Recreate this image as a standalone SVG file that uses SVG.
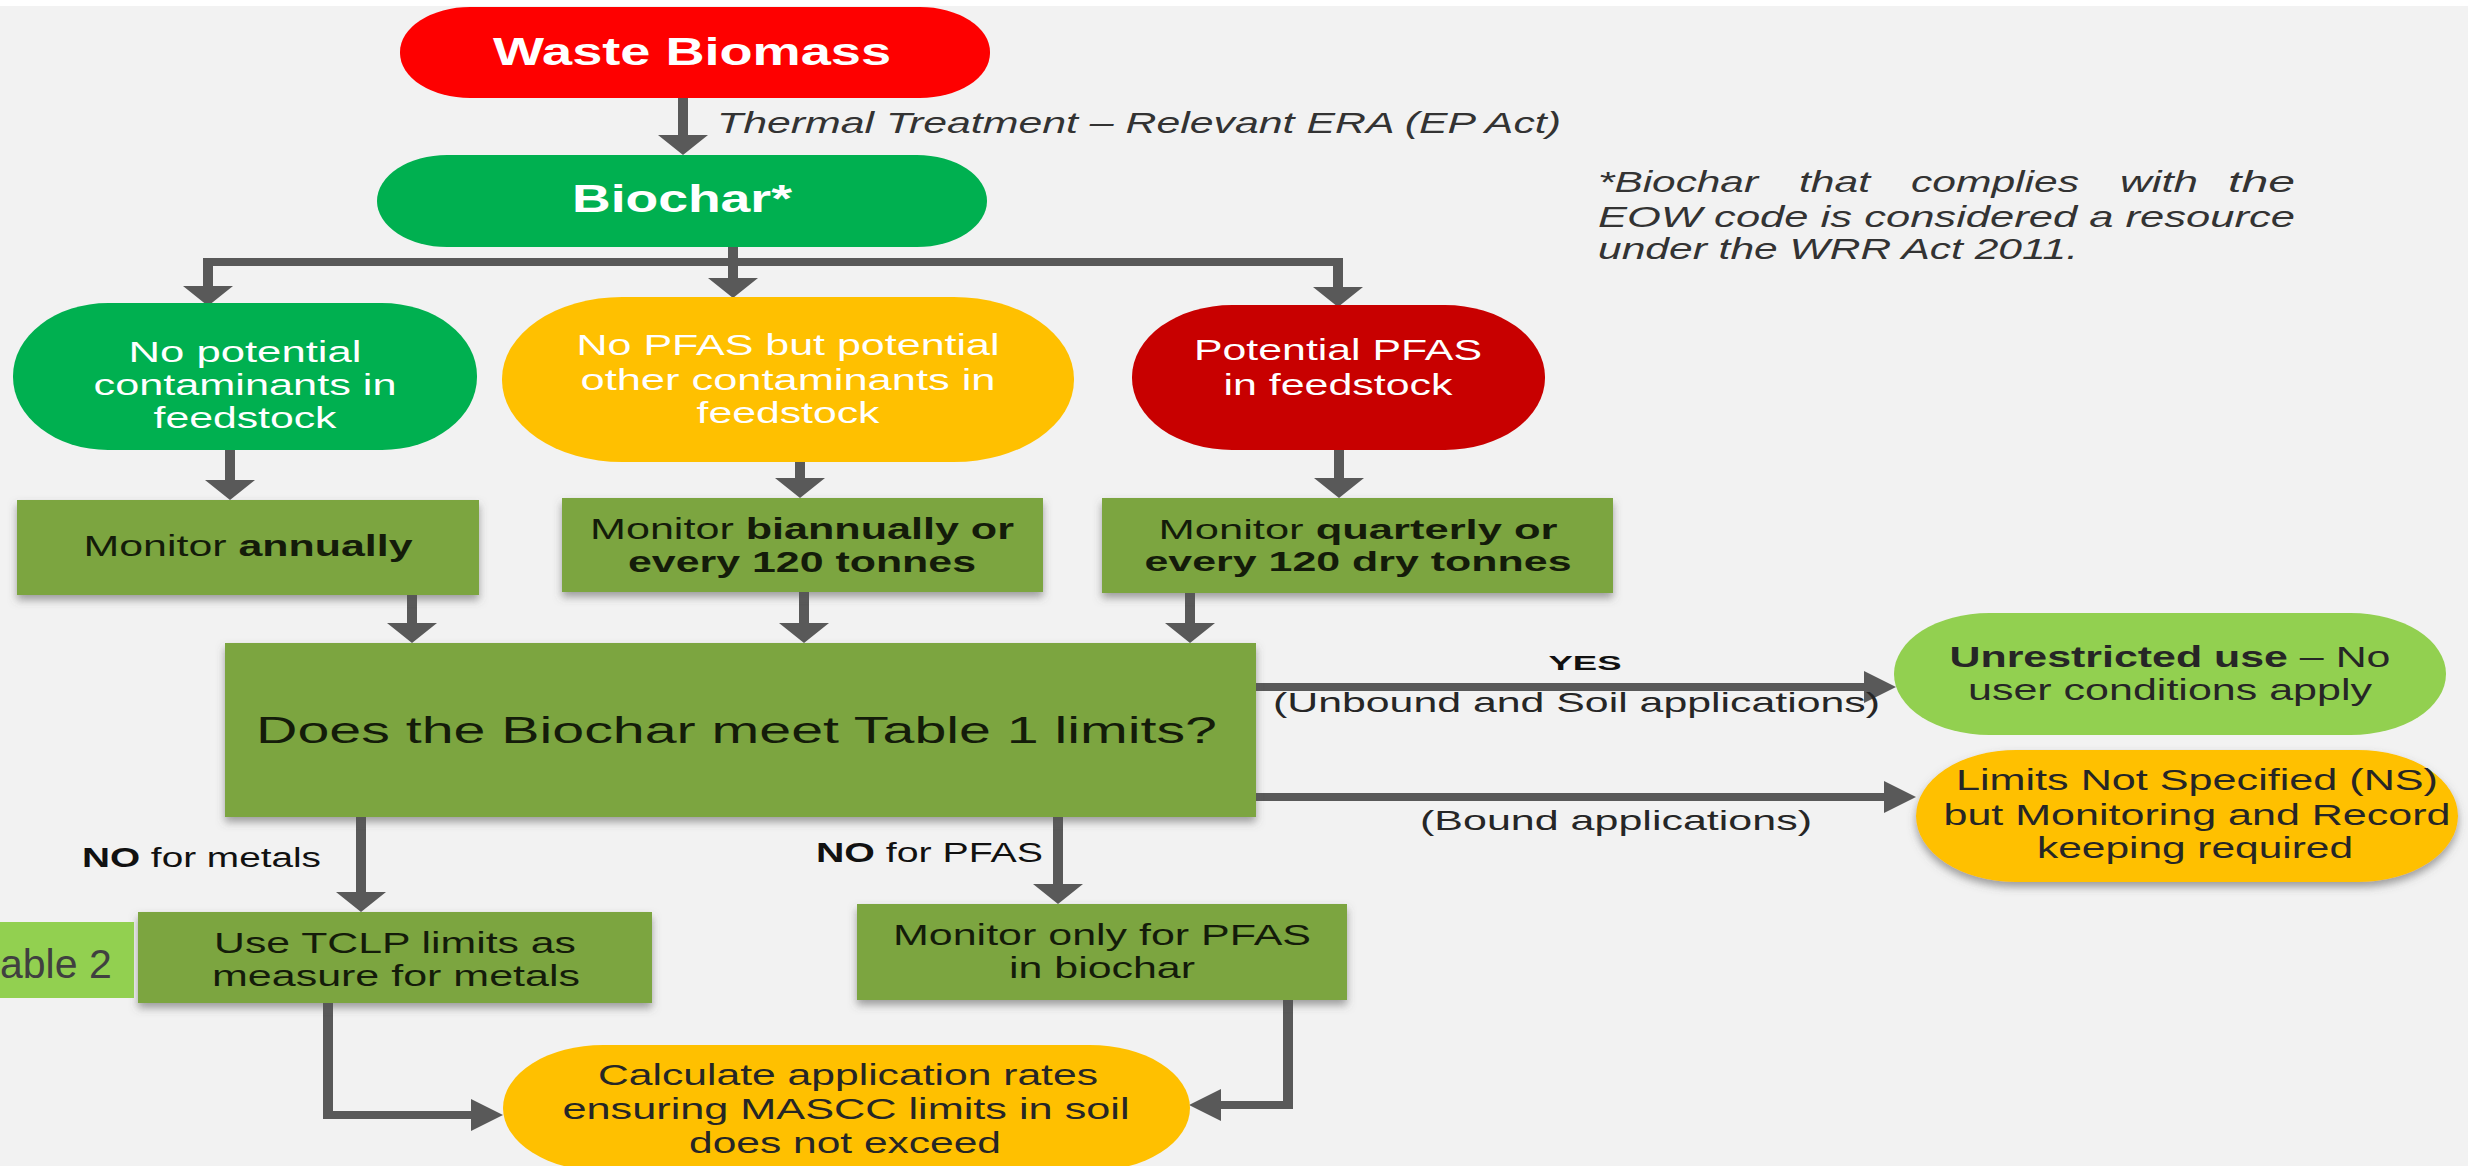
<svg xmlns="http://www.w3.org/2000/svg" width="2468" height="1166" viewBox="0 0 2468 1166">
<defs>
<style>
text{font-family:"Liberation Sans",Arial,sans-serif;}
.wt{fill:#ffffff;}
.dk{fill:#141c0a;}
.dg{fill:#262626;}
.it{font-style:italic;fill:#333333;}
.b{font-weight:bold;}
.olive{fill:#7ca53f;}
.v{fill:none;stroke:#595959;stroke-width:10;}
.h{fill:none;stroke:#595959;stroke-width:8;}
.av{marker-end:url(#ahv);}
.ah{marker-end:url(#ahh);}
</style>
<marker id="ahv" markerUnits="userSpaceOnUse" orient="auto" markerWidth="22" markerHeight="52" refX="0" refY="26" viewBox="0 0 22 52" overflow="visible">
<path d="M0,1 L20,26 L0,51 Z" fill="#595959"/>
</marker>
<marker id="ahh" markerUnits="userSpaceOnUse" orient="auto" markerWidth="34" markerHeight="32" refX="0" refY="16" viewBox="0 0 34 32" overflow="visible">
<path d="M0,0 L32,16 L0,32 Z" fill="#595959"/>
</marker>
<filter id="sh" x="-5%" y="-10%" width="110%" height="130%">
<feDropShadow dx="0" dy="5" stdDeviation="4" flood-color="#555555" flood-opacity="0.55"/>
</filter>
</defs>
<rect x="0" y="0" width="2468" height="1166" fill="#f2f2f2"/>
<rect x="0" y="0" width="2468" height="6" fill="#ffffff"/>

<g id="connectors">
<path class="v av" d="M683,98 V135"/>
<path class="v" d="M733,247 V266"/>
<path class="h" d="M203,262 H1343"/>
<path class="v av" d="M208,258 V286"/>
<path class="v av" d="M733,262 V278"/>
<path class="v av" d="M1338,258 V287"/>
<path class="v av" d="M230,450 V480"/>
<path class="v av" d="M800,462 V478"/>
<path class="v av" d="M1339,450 V478"/>
<path class="v av" d="M412,595 V623"/>
<path class="v av" d="M804,592 V623"/>
<path class="v av" d="M1190,593 V623"/>
<path class="v av" d="M361,817 V892"/>
<path class="v av" d="M1058,817 V884"/>
<path class="h ah" d="M1256,687 H1864"/>
<path class="h ah" d="M1256,797 H1884"/>
<path class="v" d="M328,1003 V1119"/>
<path class="h ah" d="M323,1115 H471"/>
<path class="v" d="M1288,1000 V1109"/>
<path class="h ah" d="M1292,1105 H1221"/>
<text class="it" x="717" y="133" font-size="29" textLength="844" lengthAdjust="spacingAndGlyphs">Thermal Treatment – Relevant ERA (EP Act)</text>
<text class="b" x="1585" y="670" font-size="21" text-anchor="middle" textLength="73" lengthAdjust="spacingAndGlyphs" fill="#111">YES</text>
<text x="1273" y="712" font-size="28" textLength="607" lengthAdjust="spacingAndGlyphs" fill="#262626">(Unbound and Soil applications)</text>
<text x="1420" y="830" font-size="28" textLength="392" lengthAdjust="spacingAndGlyphs" fill="#262626">(Bound applications)</text>
<text x="82" y="867" font-size="27" textLength="239" lengthAdjust="spacingAndGlyphs" fill="#111"><tspan class="b">NO</tspan> for metals</text>
<text x="816" y="862" font-size="27" textLength="227" lengthAdjust="spacingAndGlyphs" fill="#111"><tspan class="b">NO</tspan> for PFAS</text>
</g>

<g id="waste-biomass">
<rect x="400" y="7" width="590" height="91" rx="70" ry="45" fill="#fe0000"/>
<text class="wt b" x="692" y="65" font-size="39" text-anchor="middle" textLength="398" lengthAdjust="spacingAndGlyphs">Waste Biomass</text>
</g>

<g id="biochar">
<rect x="377" y="155" width="610" height="92" rx="70" ry="46" fill="#00b050"/>
<text class="wt b" x="682" y="212" font-size="38" text-anchor="middle" textLength="220" lengthAdjust="spacingAndGlyphs">Biochar*</text>
</g>

<g id="note">
<text class="it" y="192" font-size="29"><tspan x="1598" textLength="160" lengthAdjust="spacingAndGlyphs">*Biochar</tspan><tspan x="1799" textLength="71" lengthAdjust="spacingAndGlyphs">that</tspan><tspan x="1911" textLength="168" lengthAdjust="spacingAndGlyphs">complies</tspan><tspan x="2120" textLength="78" lengthAdjust="spacingAndGlyphs">with</tspan><tspan x="2228" textLength="67" lengthAdjust="spacingAndGlyphs">the</tspan></text>
<text class="it" x="1598" y="227" font-size="29" textLength="697" lengthAdjust="spacingAndGlyphs">EOW code is considered a resource</text>
<text class="it" x="1598" y="259" font-size="29" textLength="480" lengthAdjust="spacingAndGlyphs">under the WRR Act 2011.</text>
</g>

<g id="no-contaminants">
<rect x="13" y="303" width="464" height="147" rx="95" ry="73" fill="#00b050"/>
<text class="wt" x="245" y="362" font-size="29" text-anchor="middle" textLength="233" lengthAdjust="spacingAndGlyphs">No potential</text>
<text class="wt" x="245" y="395" font-size="29" text-anchor="middle" textLength="303" lengthAdjust="spacingAndGlyphs">contaminants in</text>
<text class="wt" x="245" y="428" font-size="29" text-anchor="middle" textLength="183" lengthAdjust="spacingAndGlyphs">feedstock</text>
</g>

<g id="no-pfas-other">
<rect x="502" y="297" width="572" height="165" rx="120" ry="82" fill="#ffc000"/>
<text class="wt" x="788" y="355" font-size="29" text-anchor="middle" textLength="423" lengthAdjust="spacingAndGlyphs">No PFAS but potential</text>
<text class="wt" x="788" y="390" font-size="29" text-anchor="middle" textLength="415" lengthAdjust="spacingAndGlyphs">other contaminants in</text>
<text class="wt" x="788" y="423" font-size="29" text-anchor="middle" textLength="183" lengthAdjust="spacingAndGlyphs">feedstock</text>
</g>

<g id="potential-pfas">
<rect x="1132" y="305" width="413" height="145" rx="100" ry="72" fill="#c80000"/>
<text class="wt" x="1338" y="360" font-size="29" text-anchor="middle" textLength="288" lengthAdjust="spacingAndGlyphs">Potential PFAS</text>
<text class="wt" x="1338" y="395" font-size="29" text-anchor="middle" textLength="229" lengthAdjust="spacingAndGlyphs">in feedstock</text>
</g>

<g id="monitor-annually">
<rect class="olive" x="17" y="500" width="462" height="95" filter="url(#sh)"/>
<text class="dk" x="248" y="556" font-size="30" text-anchor="middle" textLength="329" lengthAdjust="spacingAndGlyphs">Monitor <tspan class="b">annually</tspan></text>
</g>

<g id="monitor-biannually">
<rect class="olive" x="562" y="498" width="481" height="94" filter="url(#sh)"/>
<text class="dk" x="802" y="539" font-size="30" text-anchor="middle" textLength="424" lengthAdjust="spacingAndGlyphs">Monitor <tspan class="b">biannually or</tspan></text>
<text class="dk b" x="802" y="572" font-size="30" text-anchor="middle" textLength="348" lengthAdjust="spacingAndGlyphs">every 120 tonnes</text>
</g>

<g id="monitor-quarterly">
<rect class="olive" x="1102" y="498" width="511" height="95" filter="url(#sh)"/>
<text class="dk" x="1358" y="539" font-size="28" text-anchor="middle" textLength="399" lengthAdjust="spacingAndGlyphs">Monitor <tspan class="b">quarterly or</tspan></text>
<text class="dk b" x="1358" y="571" font-size="28" text-anchor="middle" textLength="427" lengthAdjust="spacingAndGlyphs">every 120 dry tonnes</text>
</g>

<g id="decision">
<rect class="olive" x="225" y="643" width="1031" height="174" filter="url(#sh)"/>
<text class="dk" x="256" y="743" font-size="36" textLength="961" lengthAdjust="spacingAndGlyphs">Does the Biochar meet Table 1 limits?</text>
</g>

<g id="unrestricted">
<rect x="1894" y="613" width="552" height="122" rx="95" ry="61" fill="#92d050"/>
<text class="dg" x="2170" y="667" font-size="29" text-anchor="middle" textLength="441" lengthAdjust="spacingAndGlyphs"><tspan class="b">Unrestricted use</tspan> – No</text>
<text class="dg" x="2170" y="700" font-size="29" text-anchor="middle" textLength="404" lengthAdjust="spacingAndGlyphs">user conditions apply</text>
</g>

<g id="limits-ns">
<rect x="1916" y="750" width="542" height="132" rx="100" ry="66" fill="#ffc000" filter="url(#sh)"/>
<text class="dg" x="2197" y="790" font-size="29" text-anchor="middle" textLength="482" lengthAdjust="spacingAndGlyphs">Limits Not Specified (NS)</text>
<text class="dg" x="2197" y="825" font-size="29" text-anchor="middle" textLength="507" lengthAdjust="spacingAndGlyphs">but Monitoring and Record</text>
<text class="dg" x="2195" y="858" font-size="29" text-anchor="middle" textLength="316" lengthAdjust="spacingAndGlyphs">keeping required</text>
</g>

<g id="tclp">
<rect class="olive" x="138" y="912" width="514" height="91" filter="url(#sh)"/>
<text class="dk" x="395" y="953" font-size="29" text-anchor="middle" textLength="362" lengthAdjust="spacingAndGlyphs">Use TCLP limits as</text>
<text class="dk" x="396" y="986" font-size="29" text-anchor="middle" textLength="368" lengthAdjust="spacingAndGlyphs">measure for metals</text>
</g>

<g id="pfas-only">
<rect class="olive" x="857" y="904" width="490" height="96" filter="url(#sh)"/>
<text class="dk" x="1102" y="945" font-size="29" text-anchor="middle" textLength="418" lengthAdjust="spacingAndGlyphs">Monitor only for PFAS</text>
<text class="dk" x="1102" y="978" font-size="29" text-anchor="middle" textLength="186" lengthAdjust="spacingAndGlyphs">in biochar</text>
</g>

<g id="calculate">
<rect x="503" y="1045" width="687" height="126" rx="100" ry="63" fill="#ffc000"/>
<text class="dg" x="848" y="1085" font-size="29" text-anchor="middle" textLength="500" lengthAdjust="spacingAndGlyphs">Calculate application rates</text>
<text class="dg" x="846" y="1119" font-size="29" text-anchor="middle" textLength="567" lengthAdjust="spacingAndGlyphs">ensuring MASCC limits in soil</text>
<text class="dg" x="845" y="1153" font-size="29" text-anchor="middle" textLength="312" lengthAdjust="spacingAndGlyphs">does not exceed</text>
</g>

<g id="table2">
<rect x="0" y="922" width="134" height="76" fill="#92d050"/>
<text x="0" y="978" font-size="41" fill="#404040">able 2</text>
</g>
</svg>
